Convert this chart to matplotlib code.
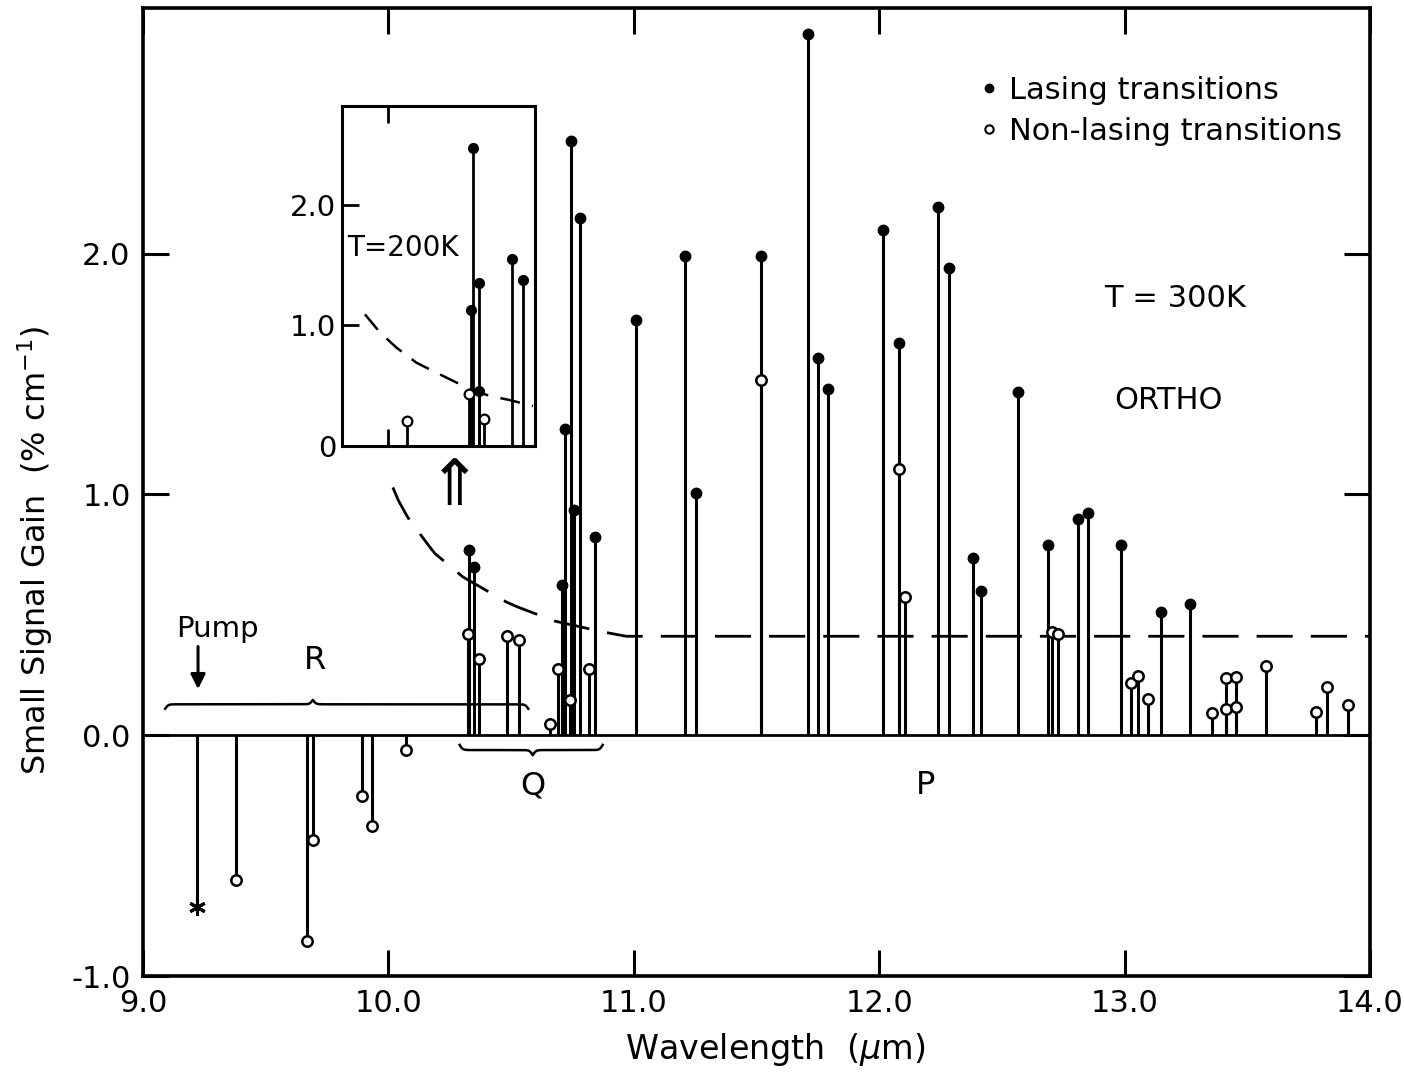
import numpy as np
import matplotlib
matplotlib.use("Agg")
import matplotlib.pyplot as plt
from matplotlib.lines import Line2D
from matplotlib import font_manager

# ---- data (wavelength in um, gain in % cm^-1) ----
# T = 300 K, lasing transitions (filled dots)
lase_x = [10.329, 10.349, 10.707, 10.720, 10.745, 10.755, 10.782, 10.843,
          11.010, 11.207, 11.254, 11.519, 11.709, 11.752, 11.790,
          12.014, 12.082, 12.241, 12.283, 12.381, 12.415, 12.565, 12.686,
          12.811, 12.849, 12.985, 13.148, 13.267]
lase_y = [0.771, 0.698, 0.625, 1.271, 2.466, 0.935, 2.147, 0.823,
          1.725, 1.990, 1.005, 1.990, 2.910, 1.568, 1.436,
          2.098, 1.630, 2.192, 1.942, 0.735, 0.600, 1.427, 0.789,
          0.900, 0.924, 0.792, 0.512, 0.543]

# T = 300 K, non-lasing transitions (open dots)
nonl_x = [9.379, 9.667, 9.693, 9.893, 9.934, 10.070,
          10.325, 10.369, 10.485, 10.530, 10.660, 10.689, 10.739, 10.816,
          11.519, 12.082, 12.107, 12.704, 12.727,
          13.026, 13.053, 13.095, 13.358, 13.415, 13.415, 13.453, 13.453,
          13.578, 13.779, 13.826, 13.909]
nonl_y = [-0.602, -0.853, -0.436, -0.252, -0.376, -0.062,
          0.422, 0.317, 0.414, 0.394, 0.046, 0.274, 0.145, 0.277,
          1.475, 1.107, 0.574, 0.428, 0.420,
          0.216, 0.246, 0.151, 0.093, 0.236, 0.108, 0.243, 0.117,
          0.287, 0.097, 0.200, 0.124]

# pump line (asterisk)
pump_x = [9.221]
pump_y = [-0.712]

# threshold curve, 300 K
thr_x = [10.018, 10.040, 10.074, 10.087, 10.169, 10.190, 10.304, 10.379,
         10.481, 10.528, 10.678, 10.874, 10.969, 14.0]
thr_y = [1.029, 0.976, 0.913, 0.892, 0.781, 0.754, 0.657, 0.613,
         0.553, 0.532, 0.474, 0.429, 0.411, 0.411]

# inset, T = 200 K
in_lase_x = [10.338, 10.345, 10.368, 10.368, 10.505, 10.548]
in_lase_y = [1.129, 2.477, 1.357, 0.454, 1.551, 1.379]
in_nonl_x = [10.074, 10.328, 10.388]
in_nonl_y = [0.204, 0.427, 0.218]
in_thr_x = [9.904, 9.965, 10.033, 10.114, 10.181, 10.250, 10.331, 10.413, 10.494, 10.589]
in_thr_y = [1.093, 0.943, 0.815, 0.690, 0.621, 0.552, 0.471, 0.413, 0.379, 0.329]

x_ticks = [9.0, 10.0, 11.0, 12.0, 13.0, 14.0]
x_tick_labels = ["9.0", "10.0", "11.0", "12.0", "13.0", "14.0"]
y_ticks = [-1.0, 0.0, 1.0, 2.0]
y_tick_labels = ["-1.0", "0.0", "1.0", "2.0"]
in_y_ticks = [0.0, 1.0, 2.0]
in_y_tick_labels = ["0", "1.0", "2.0"]

# ---- fonts ----
have = {f.name for f in font_manager.fontManager.ttflist}
narrow = "DejaVu Sans"
for name in ["DejaVu Sans Condensed", "Liberation Sans Narrow"]:
    if name in have:
        narrow = name
        break
plt.rcParams["font.family"] = ["DejaVu Sans"]
plt.rcParams["mathtext.fontset"] = "dejavusans"


def brace(ax, x0, x1, xp, y_tip, depth, beta, **kw):
    left = np.linspace(x0, xp, 300)
    right = np.linspace(xp, x1, 300)
    vl = 1 / (1 + np.exp(-beta * (left - x0))) + 1 / (1 + np.exp(-beta * (left - xp)))
    vr = 1 / (1 + np.exp(beta * (right - x1))) + 1 / (1 + np.exp(beta * (right - xp)))
    xs = np.concatenate([left, right])
    v = np.concatenate([vl, vr])
    ax.plot(xs, y_tip + (v - 0.5) * depth, **kw)


def stems(ax, xs, ys, lw):
    ax.vlines(xs, 0, ys, colors="black", linewidth=lw, zorder=2)


fig = plt.figure(figsize=(14.04, 10.79), dpi=100)
ax = fig.add_axes([0.1019, 0.0954, 0.8739, 0.8972])
ax.set_xlim(9.0, 14.0)
ax.set_ylim(-1.0, 3.02)

ax.axhline(0, color="black", linewidth=2.0, zorder=1)
stems(ax, lase_x, lase_y, 2.2)
stems(ax, nonl_x, nonl_y, 2.2)
stems(ax, pump_x, pump_y, 2.2)
ax.plot(lase_x, lase_y, "o", color="black", markersize=7.5, zorder=4)
ax.plot(nonl_x, nonl_y, "o", markerfacecolor="white", markeredgecolor="black",
        markersize=7.5, markeredgewidth=1.8, zorder=4)
ax.plot(pump_x, pump_y, marker=(6, 2, 0), color="black", markersize=12,
        markeredgewidth=2.2, linestyle="none", zorder=4)
ax.plot(thr_x, thr_y, color="black", linewidth=2.0, linestyle=(0, (13, 6.5)), zorder=3)

for s in ax.spines.values():
    s.set_linewidth(2.6)
ax.set_xticks(x_ticks)
ax.set_xticklabels(x_tick_labels, fontsize=22, family=narrow)
ax.set_yticks(y_ticks)
ax.set_yticklabels(y_tick_labels, fontsize=22)
ax.tick_params(direction="in", length=19, width=2.2, top=True, right=True)
ax.tick_params(axis="x", pad=9)
ax.tick_params(axis="y", pad=9)

ax.set_xlabel(r"Wavelength  ($\mu$m)", fontsize=24, family=narrow)
ax.xaxis.set_label_coords(0.515, -0.057)
ax.set_ylabel(r"Small Signal Gain  (% cm$^{-1}$)", fontsize=23)
ax.yaxis.set_label_coords(-0.072, 0.44)

# annotations
brace(ax, 9.09, 10.57, 9.692, 0.11, 0.037, 160, color="black", linewidth=1.8)
brace(ax, 10.29, 10.873, 10.588, -0.04, -0.043, 160, color="black", linewidth=1.8)
ax.annotate("", xy=(9.224, 0.18), xytext=(9.224, 0.38),
            arrowprops=dict(arrowstyle="-|>", color="black", lw=2.2, mutation_scale=22))
ax.text(9.305, 0.44, "Pump", fontsize=21, ha="center", va="center")
ax.text(9.70, 0.31, "R", fontsize=23, ha="center", va="center")
ax.text(10.588, -0.21, "Q", fontsize=23, ha="center", va="center")
ax.text(12.19, -0.21, "P", fontsize=23, ha="center", va="center")
ax.text(13.206, 1.813, "T = 300K", fontsize=22, ha="center", va="center")
ax.text(13.178, 1.39, "ORTHO", fontsize=22, ha="center", va="center")
ax.text(10.27, 1.03, "\u21d1", fontsize=46, ha="center", va="center")

handles = [Line2D([], [], marker="o", linestyle="none", color="black", markersize=6),
           Line2D([], [], marker="o", linestyle="none", markerfacecolor="white",
                  markeredgecolor="black", markeredgewidth=1.5, markersize=6)]
ax.legend(handles, ["Lasing transitions", "Non-lasing transitions"],
          loc="upper left", bbox_to_anchor=(0.678, 0.93), frameon=False,
          fontsize=22, handlelength=0.9, handletextpad=0.2, labelspacing=0.4,
          borderaxespad=0, borderpad=0)

# inset, T = 200 K
axin = ax.inset_axes([9.809, 1.203, 0.787, 1.411], transform=ax.transData, zorder=5)
axin.set_xlim(9.809, 10.596)
axin.set_ylim(0, 2.83)
stems(axin, in_lase_x, in_lase_y, 2.0)
stems(axin, in_nonl_x, in_nonl_y, 2.0)
axin.plot(in_lase_x, in_lase_y, "o", color="black", markersize=7, zorder=4)
axin.plot(in_nonl_x, in_nonl_y, "o", markerfacecolor="white", markeredgecolor="black",
          markersize=7, markeredgewidth=1.6, zorder=4)
axin.plot(in_thr_x, in_thr_y, color="black", linewidth=1.8, linestyle=(0, (8, 5)), zorder=3)
for s in axin.spines.values():
    s.set_linewidth(2.2)
axin.set_xticks([10.0])
axin.set_yticks(in_y_ticks)
axin.set_yticklabels(in_y_tick_labels, fontsize=21)
axin.tick_params(direction="in", length=12, width=2.0, top=True, bottom=True,
                 left=True, right=False, labelbottom=False, pad=4)
axin.text(0.03, 0.58, "T=200K", transform=axin.transAxes, fontsize=20,
          ha="left", va="center")

fig.savefig("out.png", dpi=100)
